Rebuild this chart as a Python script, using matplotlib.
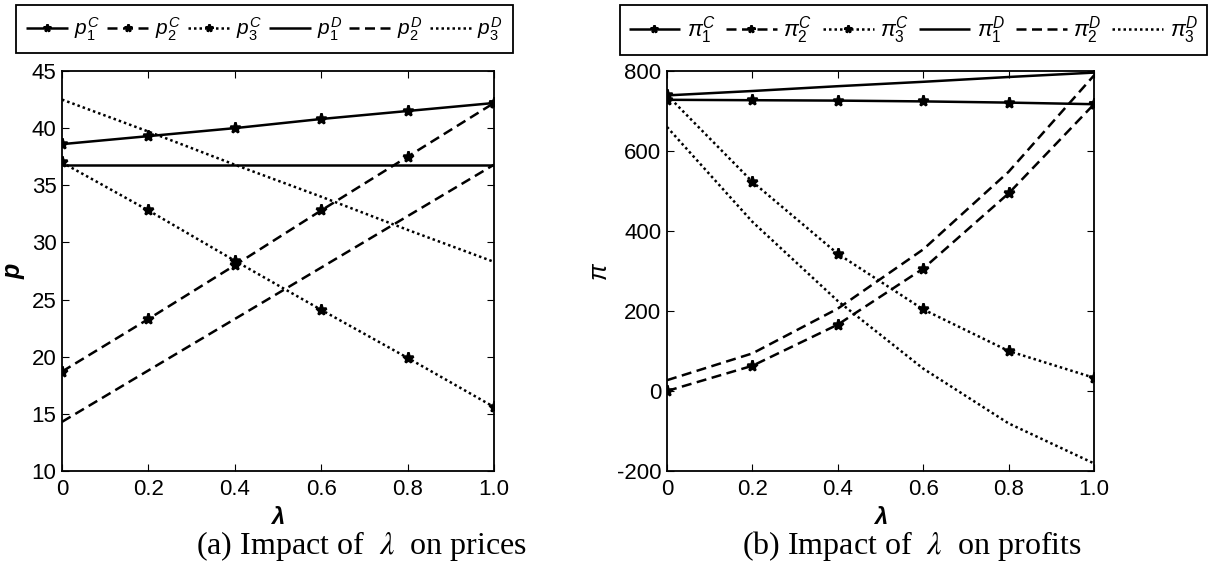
import matplotlib
matplotlib.use("Agg")
import matplotlib.pyplot as plt

plt.rcParams['font.family'] = ['Liberation Sans', 'DejaVu Sans']
plt.rcParams['mathtext.fontset'] = 'custom'
plt.rcParams['mathtext.it'] = 'Liberation Sans:italic'
plt.rcParams['mathtext.rm'] = 'Liberation Sans'
plt.rcParams['axes.unicode_minus'] = False

# lambda grid
lam = [0, 0.2, 0.4, 0.6, 0.8, 1.0]

# prices (centralized C / decentralized D)
p1_c = [38.6, 39.3, 40.0, 40.8, 41.5, 42.2]
p2_c = [18.7, 23.3, 28.0, 32.8, 37.5, 42.2]
p3_c = [37.0, 32.8, 28.4, 24.1, 19.9, 15.6]
p1_d = [36.8, 36.8, 36.8, 36.8, 36.8, 36.8]
p2_d = [14.3, 18.8, 23.3, 27.8, 32.3, 36.8]
p3_d = [42.5, 39.7, 36.8, 34.0, 31.1, 28.3]

# profits
pi1_c = [728, 727, 726, 724, 721, 717]
pi2_c = [0, 63, 166, 306, 494, 717]
pi3_c = [740, 523, 343, 204, 100, 33]
pi1_d = [739, 750, 762, 773, 785, 796]
pi2_d = [27, 94, 206, 354, 548, 789]
pi3_d = [660, 423, 225, 56, -81, -181]

xticks = [0, 0.2, 0.4, 0.6, 0.8, 1.0]
xticklabels = ['0', '0.2', '0.4', '0.6', '0.8', '1.0']

W, H = 1208, 570
fig = plt.figure(figsize=(W / 100, H / 100), dpi=100)


def px_axes(l, t, r, b):
    return fig.add_axes([l / W, 1 - b / H, (r - l) / W, (b - t) / H])


STYLES = [(0, ()), (0, (4, 2.2)), (0, (1, 1.2))]


def draw(ax, series_c, series_d, sym):
    handles = []
    for ys, ls, i in zip(series_c, STYLES, [1, 2, 3]):
        h, = ax.plot(lam, ys, color='black', linestyle=ls, lw=1.8,
                     marker='*', ms=8, mew=1.8,
                     label=r'$%s_{%d}^{C}$' % (sym, i))
        handles.append(h)
    for ys, ls, i in zip(series_d, STYLES, [1, 2, 3]):
        h, = ax.plot(lam, ys, color='black', linestyle=ls, lw=1.8,
                     label=r'$%s_{%d}^{D}$' % (sym, i))
        handles.append(h)
    ax.set_xlim(0, 1)
    ax.set_xticks(xticks)
    ax.set_xticklabels(xticklabels)
    ax.tick_params(direction='in', top=True, right=True, labelsize=16,
                   length=5, pad=4)
    ax.tick_params(axis='x', pad=6)
    for s in ax.spines.values():
        s.set_linewidth(1.3)
    ax.set_xlabel('λ', fontsize=17, fontstyle='italic', fontweight='bold',
                  labelpad=4)
    return handles


ax1 = px_axes(62, 71, 494, 471)
h1 = draw(ax1, [p1_c, p2_c, p3_c], [p1_d, p2_d, p3_d], 'p')
ax1.set_ylim(10, 45)
ax1.set_yticks([10, 15, 20, 25, 30, 35, 40, 45])
ax1.set_ylabel('p', fontsize=18, fontstyle='italic', fontweight='bold',
               labelpad=4)

ax2 = px_axes(667, 71, 1094, 471)
h2 = draw(ax2, [pi1_c, pi2_c, pi3_c], [pi1_d, pi2_d, pi3_d], r'\pi')
ax2.set_ylim(-200, 800)
ax2.set_yticks([-200, 0, 200, 400, 600, 800])
ax2.set_ylabel('π', fontsize=18, fontstyle='italic', labelpad=4)

for handles, (l, r), fs, hl, bp in [(h1, (16, 513), 15, 2.0, 0.5),
                                    (h2, (620, 1207), 16, 2.3, 0.4)]:
    leg = fig.legend(handles=handles, ncol=6, mode='expand',
                     bbox_to_anchor=(l / W, 1 - 5 / H, (r - l) / W, 0),
                     loc='upper left', borderaxespad=0, fontsize=fs,
                     handlelength=hl, handletextpad=0.3, columnspacing=0.3,
                     fancybox=False, framealpha=1, edgecolor='black',
                     borderpad=bp, markerscale=0.7)
    leg.get_frame().set_linewidth(1.3)

fig.text(361 / W, 1 - 546 / H, r'(a) Impact of  $\lambda$  on prices',
         family='Liberation Serif', fontsize=23, ha='center', va='center',
         math_fontfamily='stix')
fig.text(912 / W, 1 - 546 / H, r'(b) Impact of  $\lambda$  on profits',
         family='Liberation Serif', fontsize=23, ha='center', va='center',
         math_fontfamily='stix')

fig.savefig('out.png', dpi=100)
